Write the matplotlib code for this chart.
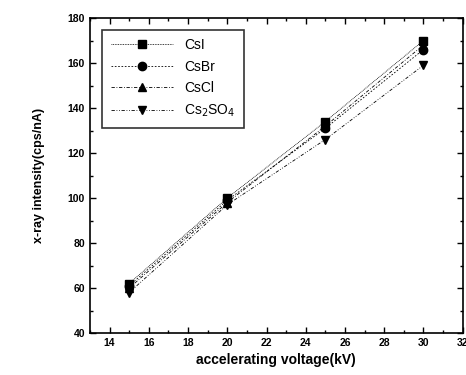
import matplotlib.pyplot as plt
from matplotlib.ticker import MultipleLocator

plt.rcParams['font.family'] = ['Liberation Sans', 'DejaVu Sans']

# data
voltage = [15, 20, 25, 30]
csi = [62, 100, 134, 170]
csbr = [61, 99, 131, 166]
cscl = [60, 98, 132, 168]
cs2so4 = [58, 97, 126, 159]

fig = plt.figure(figsize=(4.66, 3.75), dpi=100)
ax = fig.add_axes([0.193, 0.112, 0.800, 0.84])

ax.plot(voltage, csi, color='black', lw=0.6, ls=(0, (1, 1)), marker='s', ms=6, label='CsI')
ax.plot(voltage, csbr, color='black', lw=0.6, ls=(0, (2, 2)), marker='o', ms=6, label='CsBr')
ax.plot(voltage, cscl, color='black', lw=0.6, ls=(0, (4, 2, 1, 2)), marker='^', ms=6, label='CsCl')
ax.plot(voltage, cs2so4, color='black', lw=0.6, ls=(0, (4, 2, 1, 2, 1, 2)), marker='v', ms=6,
        label='Cs$_2$SO$_4$')

ax.set_xlim(13, 32)
ax.set_ylim(40, 180)
ax.xaxis.set_major_locator(MultipleLocator(2))
ax.xaxis.set_minor_locator(MultipleLocator(1))
ax.yaxis.set_major_locator(MultipleLocator(20))
ax.yaxis.set_minor_locator(MultipleLocator(10))
ax.tick_params(which='both', direction='in', top=True, right=True, width=1)
ax.tick_params(which='major', length=4, labelsize=7.5)
ax.tick_params(which='minor', length=2)
for lab in ax.get_xticklabels() + ax.get_yticklabels():
    lab.set_fontweight('bold')
for s in ax.spines.values():
    s.set_linewidth(1.2)

ax.set_xlabel('accelerating voltage(kV)', fontsize=10, fontweight='bold')
ax.set_ylabel('x-ray intensity(cps/nA)', fontsize=9, fontweight='bold', labelpad=16)

leg = ax.legend(loc='upper left', fontsize=10, frameon=True, fancybox=False,
                edgecolor='black', handlelength=4.5, labelspacing=0.55,
                borderpad=0.6, bbox_to_anchor=(0.015, 0.985))
leg.get_frame().set_linewidth(1.2)

fig.savefig('out.png', dpi=100)
